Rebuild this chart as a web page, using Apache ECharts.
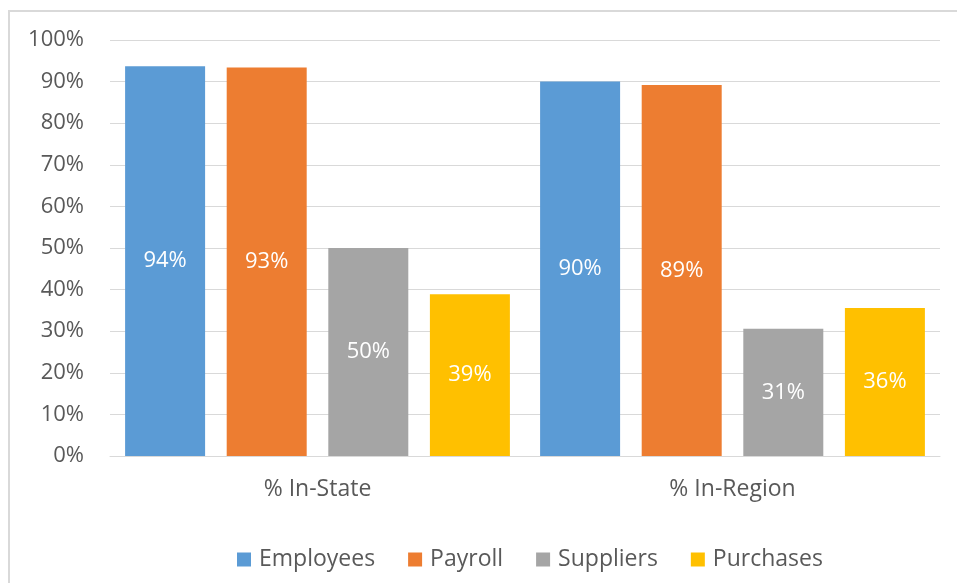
<!DOCTYPE html>
<html>
<head>
<meta charset="utf-8">
<script src="https://cdn.jsdelivr.net/npm/echarts@6/dist/echarts.min.js"></script>
<style>
  html, body { margin: 0; padding: 0; background: #fff; }
</style>
</head>
<body>
<div id="chart" style="width: 957px; height: 583px"></div>
<script>
var categories = ["% In-State", "% In-Region"];
var seriesNames = ["Employees", "Payroll", "Suppliers", "Purchases"];
var employees = [93.7, 90.0];
var payroll = [93.4, 89.2];
var suppliers = [50.0, 30.6];
var purchases = [38.9, 35.6];
var yTicks = [0, 10, 20, 30, 40, 50, 60, 70, 80, 90, 100];

var colors = ["#5B9BD5", "#ED7D31", "#A5A5A5", "#FFC000"];
var values = [employees, payroll, suppliers, purchases];
var font = "Open Sans";

var myChart = echarts.init(document.getElementById("chart"));

var series = seriesNames.map(function (name, i) {
  return {
    name: name,
    type: "bar",
    data: values[i],
    barWidth: 80,
    barGap: "27%",
    itemStyle: { color: colors[i] },
    label: {
      show: true,
      position: "inside",
      color: "#fff",
      fontSize: 22,
      fontFamily: font,
      formatter: function (p) {
        return Math.round(p.value) + "%";
      },
    },
  };
});

var option = {
  backgroundColor: "#fff",
  animation: false,
  graphic: [
    {
      type: "rect",
      shape: { x: 9, y: 11, width: 1000, height: 1000 },
      style: { fill: "none", stroke: "#d9d9d9", lineWidth: 2 },
    },
  ],
  legend: {
    data: seriesNames,
    bottom: 7,
    left: 232,
    icon: "rect",
    itemWidth: 14,
    itemHeight: 14,
    itemGap: 33,
    textStyle: {
      color: "#595959",
      fontSize: 23,
      fontFamily: font,
      padding: [0, 0, 0, 3],
    },
  },
  grid: { left: 110, right: 17, top: 40, bottom: 127 },
  xAxis: {
    type: "category",
    data: categories,
    axisTick: { show: false },
    axisLine: { lineStyle: { color: "#d9d9d9", width: 1 } },
    axisLabel: { color: "#595959", fontSize: 23, fontFamily: font, margin: 22 },
  },
  yAxis: {
    type: "value",
    min: yTicks[0],
    max: yTicks[yTicks.length - 1],
    interval: 10,
    axisLine: { show: false },
    axisTick: { show: false },
    axisLabel: {
      color: "#595959",
      fontSize: 22,
      fontFamily: font,
      margin: 26,
      formatter: "{value}%",
    },
    splitLine: { lineStyle: { color: "#d9d9d9", width: 1 } },
  },
  series: series,
};

myChart.setOption(option);
</script>
</body>
</html>
